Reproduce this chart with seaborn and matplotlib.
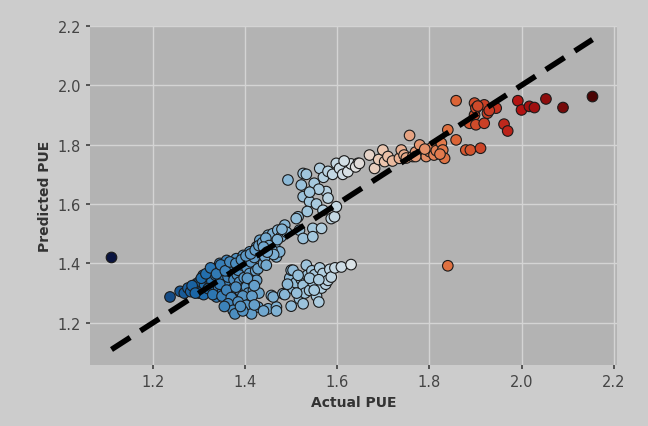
import matplotlib
matplotlib.use("Agg")
import matplotlib.pyplot as plt
from matplotlib.colors import LinearSegmentedColormap, Normalize
import seaborn as sns
import pandas as pd

points = [
    (1.110, 1.420), (1.840, 1.392),
    (1.237, 1.287), (1.259, 1.306), (1.268, 1.300), (1.276, 1.317), (1.282, 1.305), (1.290, 1.322),
    (1.295, 1.332), (1.300, 1.315), (1.302, 1.340), (1.309, 1.360), (1.312, 1.328), (1.318, 1.350),
    (1.323, 1.371), (1.323, 1.304), (1.328, 1.340), (1.334, 1.382), (1.336, 1.360), (1.338, 1.287),
    (1.340, 1.320), (1.345, 1.400), (1.348, 1.372), (1.350, 1.300), (1.352, 1.326), (1.355, 1.350),
    (1.358, 1.388), (1.360, 1.410), (1.362, 1.335), (1.363, 1.354), (1.366, 1.300), (1.368, 1.372),
    (1.372, 1.395), (1.374, 1.315), (1.376, 1.345), (1.378, 1.292), (1.381, 1.416), (1.383, 1.362),
    (1.385, 1.377), (1.388, 1.337), (1.390, 1.305), (1.393, 1.395), (1.396, 1.427), (1.398, 1.352),
    (1.400, 1.320), (1.403, 1.321), (1.404, 1.385), (1.407, 1.300), (1.410, 1.439), (1.410, 1.366),
    (1.413, 1.405), (1.416, 1.340), (1.418, 1.310), (1.420, 1.420), (1.423, 1.375), (1.425, 1.456),
    (1.425, 1.343), (1.428, 1.382), (1.430, 1.300), (1.432, 1.478), (1.436, 1.440), (1.440, 1.400),
    (1.443, 1.422), (1.446, 1.394), (1.450, 1.495), (1.455, 1.470), (1.460, 1.500), (1.464, 1.461),
    (1.468, 1.422), (1.471, 1.512), (1.475, 1.439), (1.478, 1.490), (1.486, 1.529), (1.490, 1.505),
    (1.515, 1.557), (1.518, 1.512), (1.526, 1.484), (1.300, 1.300), (1.310, 1.295), (1.320, 1.315),
    (1.330, 1.295), (1.345, 1.330), (1.350, 1.290), (1.360, 1.310), (1.370, 1.285), (1.380, 1.320),
    (1.395, 1.290), (1.405, 1.350), (1.415, 1.290), (1.420, 1.325), (1.285, 1.325), (1.292, 1.300),
    (1.305, 1.350), (1.315, 1.365), (1.325, 1.385), (1.338, 1.365), (1.347, 1.395), (1.357, 1.375),
    (1.367, 1.405), (1.380, 1.400), (1.392, 1.412), (1.402, 1.425), (1.412, 1.432), (1.422, 1.445),
    (1.430, 1.460), (1.438, 1.470), (1.445, 1.485), (1.452, 1.460), (1.458, 1.445), (1.462, 1.430),
    (1.470, 1.480), (1.480, 1.515), (1.440, 1.455), (1.448, 1.438),
    (1.363, 1.264), (1.385, 1.270), (1.403, 1.259), (1.428, 1.253), (1.450, 1.247), (1.468, 1.253),
    (1.374, 1.242), (1.414, 1.230), (1.378, 1.230), (1.395, 1.240), (1.440, 1.240), (1.457, 1.292),
    (1.461, 1.287), (1.468, 1.240), (1.482, 1.298), (1.420, 1.260), (1.355, 1.255), (1.390, 1.255),
    (1.486, 1.295), (1.497, 1.351), (1.500, 1.256), (1.500, 1.377), (1.504, 1.315), (1.504, 1.377),
    (1.510, 1.335), (1.518, 1.281), (1.522, 1.346), (1.526, 1.264), (1.526, 1.326), (1.530, 1.300),
    (1.533, 1.394), (1.535, 1.360), (1.540, 1.309), (1.545, 1.375), (1.547, 1.337), (1.551, 1.362),
    (1.555, 1.290), (1.560, 1.270), (1.562, 1.385), (1.566, 1.317), (1.569, 1.366), (1.575, 1.330),
    (1.580, 1.343), (1.584, 1.380), (1.587, 1.354), (1.595, 1.385), (1.609, 1.388), (1.630, 1.396),
    (1.515, 1.360), (1.540, 1.350), (1.560, 1.345), (1.492, 1.330), (1.512, 1.300), (1.550, 1.310),
    (1.493, 1.681), (1.511, 1.551), (1.522, 1.664), (1.526, 1.703), (1.526, 1.625), (1.533, 1.700),
    (1.540, 1.608), (1.547, 1.518), (1.547, 1.490), (1.550, 1.670), (1.555, 1.600), (1.562, 1.720),
    (1.566, 1.518), (1.569, 1.579), (1.570, 1.690), (1.576, 1.642), (1.580, 1.710), (1.587, 1.551),
    (1.590, 1.700), (1.594, 1.557), (1.598, 1.591), (1.598, 1.737), (1.605, 1.720), (1.612, 1.700),
    (1.623, 1.709), (1.630, 1.735), (1.645, 1.737), (1.560, 1.650), (1.540, 1.640), (1.580, 1.620),
    (1.535, 1.575), (1.615, 1.745), (1.640, 1.725),
    (1.648, 1.737), (1.670, 1.765), (1.681, 1.720), (1.690, 1.750), (1.699, 1.782), (1.703, 1.743),
    (1.710, 1.760), (1.720, 1.745), (1.735, 1.754), (1.739, 1.782), (1.745, 1.765), (1.757, 1.831),
    (1.750, 1.755), (1.764, 1.760), (1.770, 1.775), (1.779, 1.799), (1.785, 1.770), (1.793, 1.760),
    (1.800, 1.777), (1.805, 1.790), (1.810, 1.765), (1.815, 1.780), (1.826, 1.805), (1.829, 1.782),
    (1.833, 1.754), (1.823, 1.768), (1.770, 1.760), (1.790, 1.785),
    (1.840, 1.850), (1.858, 1.816), (1.858, 1.948), (1.879, 1.782), (1.889, 1.782), (1.887, 1.872),
    (1.898, 1.940), (1.898, 1.900), (1.901, 1.923), (1.901, 1.867), (1.911, 1.788), (1.919, 1.934),
    (1.919, 1.872), (1.926, 1.906), (1.945, 1.923), (1.962, 1.869), (1.970, 1.846), (1.992, 1.948),
    (2.000, 1.917), (2.017, 1.929), (2.028, 1.925), (2.053, 1.954), (2.090, 1.925), (2.154, 1.962),
    (1.905, 1.930), (1.930, 1.915),
]
actual_pue = [p[0] for p in points]
predicted_pue = [p[1] for p in points]
diag = [min(actual_pue), max(actual_pue)]

df = pd.DataFrame({"Actual PUE": actual_pue, "Predicted PUE": predicted_pue})

color_anchors = [1.11, 1.30, 1.45, 1.55, 1.63, 1.70, 1.85, 2.00, 2.16]
color_values = ["#0a1440", "#1c6aab", "#78add2", "#a6c9de", "#dce3e7",
                "#ecc7b0", "#de6a38", "#b21212", "#480404"]
lo, hi = color_anchors[0], color_anchors[-1]
cmap = LinearSegmentedColormap.from_list(
    "pue", [((v - lo) / (hi - lo), c) for v, c in zip(color_anchors, color_values)])

sns.set_theme(style="darkgrid", rc={
    "axes.facecolor": "#b3b3b3",
    "figure.facecolor": "#cccccc",
    "grid.color": "#d4d4d4",
    "grid.linewidth": 1.0,
    "xtick.color": "#444444",
    "ytick.color": "#444444",
    "xtick.bottom": True,
    "ytick.left": True,
    "xtick.major.size": 3,
    "ytick.major.size": 3,
    "axes.labelcolor": "#333333",
})
plt.rcParams['font.family'] = ['DejaVu Sans']

fig = plt.figure(figsize=(6.48, 4.27), dpi=100)
ax = fig.add_axes([0.139, 0.143, 0.813, 0.794])

sns.scatterplot(data=df, x="Actual PUE", y="Predicted PUE", hue="Actual PUE",
                palette=cmap, hue_norm=Normalize(lo, hi),
                edgecolor="#1a1a1a", linewidth=0.8, s=58, legend=False, ax=ax, zorder=2)
ax.plot(diag, diag, color="black", ls="--", lw=4, dashes=(4, 2.2), zorder=3)

ax.set_xticks([1.2, 1.4, 1.6, 1.8, 2.0, 2.2])
ax.set_yticks([1.2, 1.4, 1.6, 1.8, 2.0, 2.2])
ax.set_xlim(1.0635, 2.207)
ax.set_ylim(1.058, 2.2)
ax.tick_params(labelsize=10.5)
ax.set_xlabel("Actual PUE", fontweight="bold", fontsize=10)
ax.set_ylabel("Predicted PUE", fontweight="bold", fontsize=10)
for s in ax.spines.values():
    s.set_visible(False)

fig.savefig("out.png", dpi=100)
